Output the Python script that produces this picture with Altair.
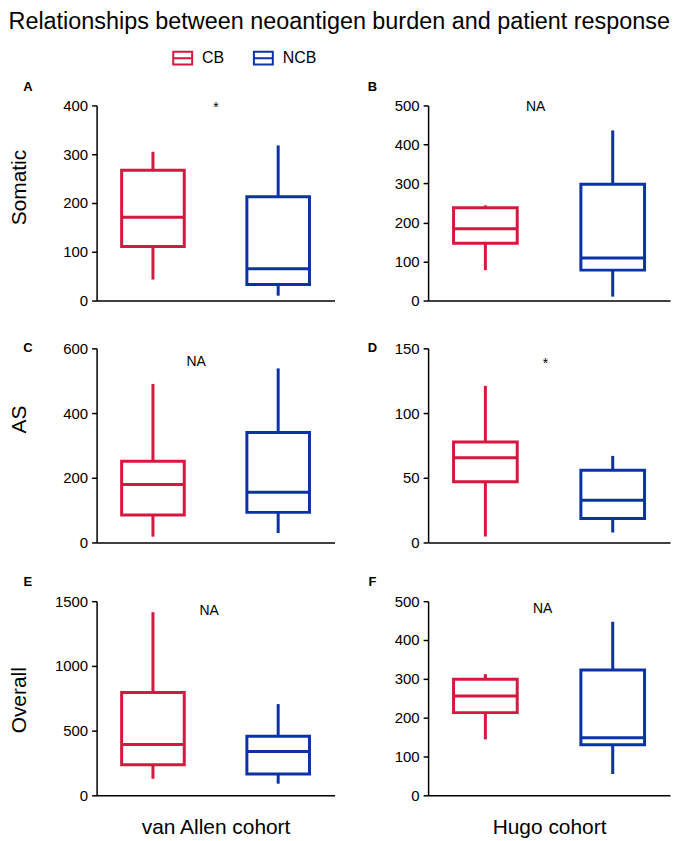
import altair as alt
import pandas as pd

FONT = "Liberation Sans"

groups = ["CB", "NCB"]
colors = ["#D6173F", "#0C33A6"]
panel_ids = ["A", "B", "C", "D", "E", "F"]
measures = ["Somatic", "Somatic", "AS", "AS", "Overall", "Overall"]
cohorts = ["van Allen cohort", "Hugo cohort"]

# box-plot summaries per panel, values for [CB, NCB]
whisker_low = [[43, 10], [78, 10], [18, 29], [4.6, 7.7], [128, 90], [144, 55]]
q1 = [[111, 33], [147, 78], [85, 93], [47, 18.5], [236, 164], [213, 130]]
median = [[171, 65], [184, 109], [179, 155], [65.4, 32.7], [393, 338], [256, 148]]
q3 = [[267, 213], [238, 298], [251, 340], [77.7, 55.8], [795, 456], [299, 323]]
whisker_high = [[305, 318], [244, 436], [490, 538], [121, 66.9], [1415, 705], [312, 447]]

y_max = [400, 500, 600, 150, 1500, 500]
y_ticks = [
    [0, 100, 200, 300, 400],
    [0, 100, 200, 300, 400, 500],
    [0, 200, 400, 600],
    [0, 50, 100, 150],
    [0, 500, 1000, 1500],
    [0, 100, 200, 300, 400, 500],
]
sig_text = ["*", "NA", "NA", "*", "NA", "NA"]
sig_y = [394, 497, 557, 138, 1423, 480]

# layout (pixels)
col_w = [239, 243]
row_h = [196, 195, 206]
row_top = [0, 0, 11]
sig_x = [120, 108, 100, 118, 113, 115]
letter_x = [-69, -56]
letter_y = [-19, 0, -8]
ytitle_y = [82, 71, 110]

sym_path = "M-1,-0.68H1V0.68H-1Z M-1,0H1"

legend = alt.Legend(
    orient="none", legendX=76, legendY=-58, direction="horizontal", title=None,
    symbolType=sym_path, symbolSize=361, symbolStrokeWidth=2,
    labelFontSize=16, labelFont=FONT, labelColor="black",
    labelOffset=9, columnPadding=25, padding=0,
)
cscale = alt.Scale(domain=groups, range=colors)
senc_leg = alt.Stroke("group:N", scale=cscale, legend=legend)
senc = alt.Stroke("group:N", scale=cscale, legend=None)

panels = []
for i in range(6):
    row, col = i // 2, i % 2
    w, h = col_w[col], row_h[row]
    df = pd.DataFrame({
        "group": groups,
        "low": whisker_low[i],
        "q1": q1[i],
        "med": median[i],
        "q3": q3[i],
        "high": whisker_high[i],
    })
    bw = w / 1.9 * 0.5
    xscale = alt.Scale(domain=groups, paddingInner=0.5, paddingOuter=0.2)
    if row == 2:
        yscale = alt.Scale(domain=[0, y_max[i]], range=[h, row_top[row]], nice=False, zero=True)
    else:
        yscale = alt.Scale(domain=[0, y_max[i]], nice=False, zero=True)

    xaxis_kw = dict(labels=False, ticks=False, domainColor="black", domainWidth=1.5)
    if row == 2:
        xaxis = alt.Axis(title=cohorts[col], titleY=38, titleBaseline="alphabetic",
                         titleFontSize=21, **xaxis_kw)
    else:
        xaxis = alt.Axis(title=None, **xaxis_kw)

    if col == 0:
        yaxis = alt.Axis(values=y_ticks[i], format="d", title=measures[i], titleX=-71,
                         titleY=ytitle_y[row], titleBaseline="alphabetic", titleAngle=-90,
                         titleFontSize=21)
    else:
        yaxis = alt.Axis(values=y_ticks[i], format="d", title=None)

    base = alt.Chart(df)
    xenc = alt.X("group:N", scale=xscale, axis=xaxis)

    box = base.mark_bar(fill="white", strokeWidth=3, opacity=1).encode(
        x=xenc,
        y=alt.Y("q1:Q", scale=yscale, axis=yaxis),
        y2="q3:Q",
        stroke=senc_leg,
    )
    w_lo = base.mark_rule(strokeWidth=3, opacity=1).encode(
        x=xenc,
        y=alt.Y("low:Q", scale=yscale, axis=yaxis),
        y2="q1:Q",
        stroke=senc,
    )
    w_hi = base.mark_rule(strokeWidth=3, opacity=1).encode(
        x=xenc,
        y=alt.Y("q3:Q", scale=yscale, axis=yaxis),
        y2="high:Q",
        stroke=senc,
    )
    med = base.mark_tick(filled=False, thickness=0.5, strokeWidth=2.5, size=bw - 2.5, opacity=1).encode(
        x=xenc,
        y=alt.Y("med:Q", scale=yscale, axis=yaxis),
        stroke=senc,
    )
    sig = alt.Chart(pd.DataFrame({"t": [sig_text[i]], "y": [sig_y[i]]})).mark_text(
        font=FONT, fontSize=14, color="black", align="center", baseline="middle"
    ).encode(
        text="t:N",
        x=alt.value(sig_x[i]),
        y=alt.Y("y:Q", scale=yscale, axis=yaxis),
    )
    letter = alt.Chart(pd.DataFrame({"t": [panel_ids[i]]})).mark_text(
        font=FONT, fontSize=13, fontWeight="bold", color="black", align="center", baseline="middle"
    ).encode(
        text="t:N",
        x=alt.value(letter_x[col]),
        y=alt.value(letter_y[row]),
    )
    panels.append(alt.layer(box, w_lo, w_hi, med, sig, letter).properties(width=w, height=h))

chart = alt.concat(
    *panels,
    columns=2,
    spacing=alt.RowColnumber(row=48, column=94),
    bounds="flush",
).properties(
    title=alt.TitleParams(
        "Relationships between neoantigen burden and patient response",
        anchor="start", fontSize=23.5, font=FONT, fontWeight="normal", color="black", offset=14,
    ),
    padding={"left": 0, "top": 0, "right": 0, "bottom": 0},
).configure_view(
    stroke="transparent"
).configure_axis(
    domainColor="black", domainWidth=1.5, tickColor="black", tickWidth=1.5, tickSize=5,
    labelFont=FONT, labelFontSize=15, labelColor="black", labelPadding=4,
    titleFont=FONT, titleFontWeight="normal", titleColor="black", grid=False,
)

chart.save("out.html", embed_options={"renderer": "svg", "actions": False})
